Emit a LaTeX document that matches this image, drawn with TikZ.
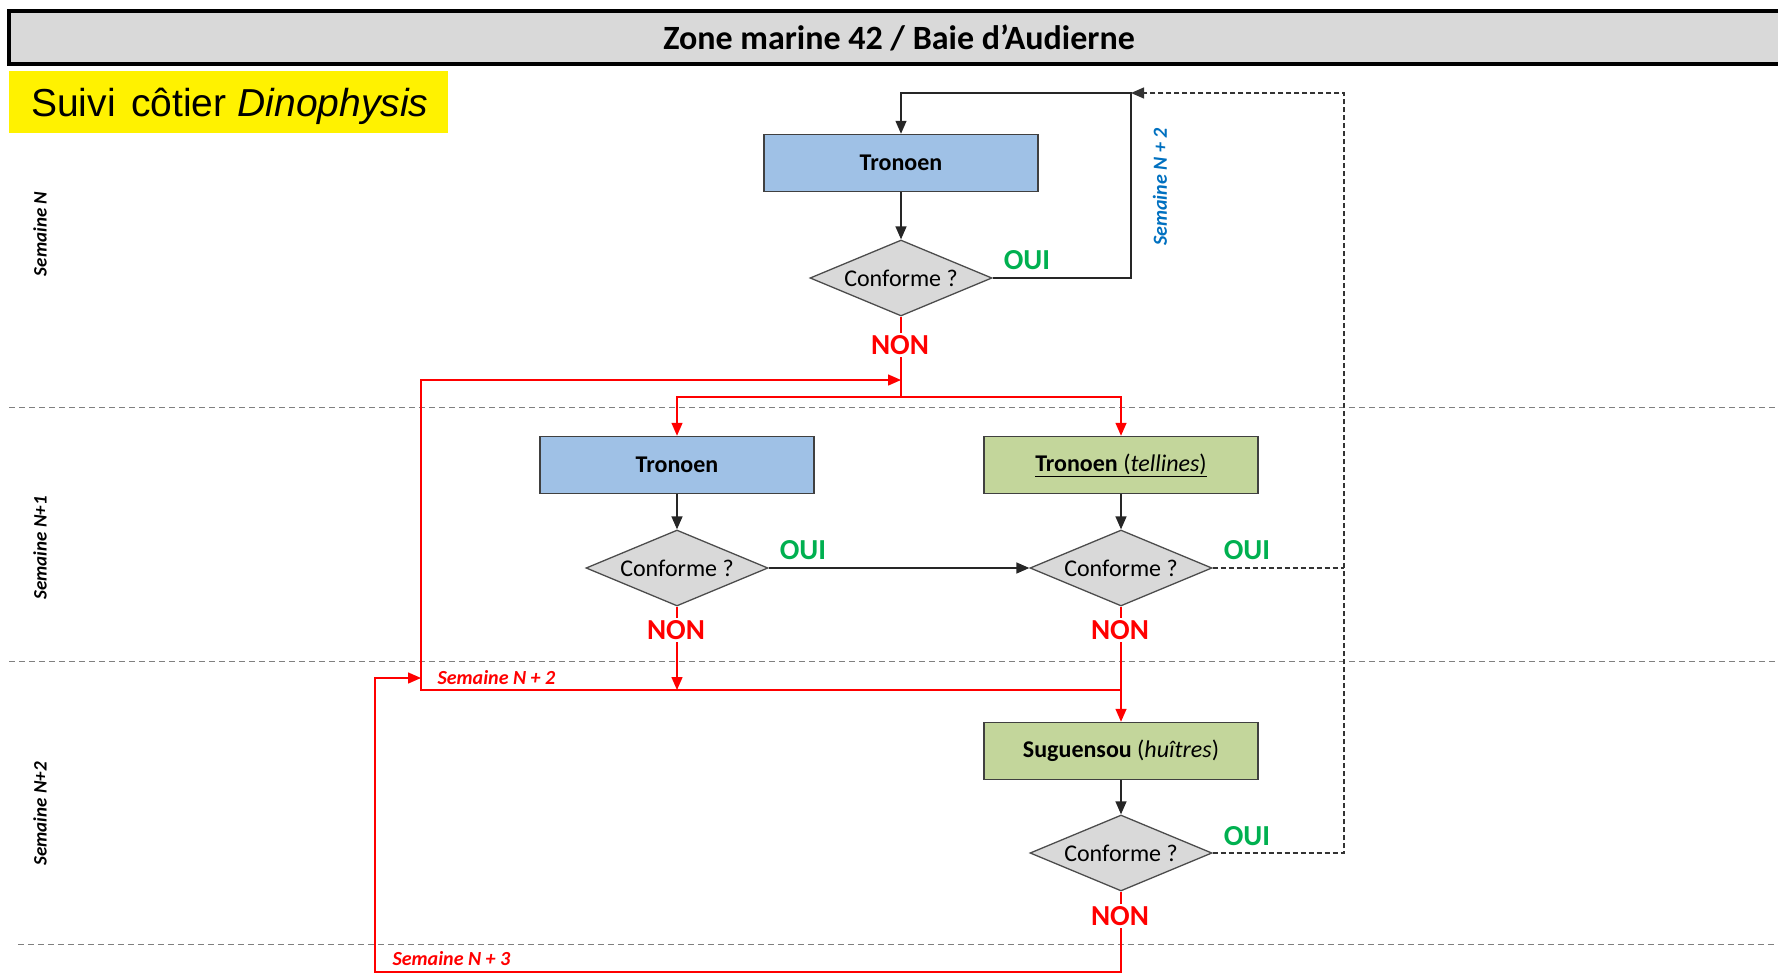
\documentclass[tikz,border=0pt]{standalone}
\usepackage{fontspec}
\setmainfont{Carlito}
\newfontfamily\arialf{Liberation Sans}
\usetikzlibrary{shapes.geometric,arrows.meta}
\newcommand\fsz[1]{\fontsize{#1}{#1}\selectfont}
\definecolor{boxblue}{HTML}{9FC1E6}
\definecolor{boxgreen}{HTML}{C3D69B}
\definecolor{decgray}{HTML}{D9D9D9}
\definecolor{ouigreen}{HTML}{00B050}
\definecolor{labblue}{HTML}{0070C0}
\definecolor{redl}{HTML}{FF0000}
\tikzset{
  box/.style={draw=black!75, line width=1.5pt, minimum width=274pt, minimum height=57pt, inner sep=0pt, font=\fsz{24}},
  bluebox/.style={box, fill=boxblue},
  greenbox/.style={box, fill=boxgreen},
  dec/.style={diamond, draw=black!70, fill=decgray, line width=1.3pt, aspect=2.4, minimum width=182pt, minimum height=76pt, inner sep=0pt, font=\fsz{24}},
  oui/.style={text=ouigreen, font=\bfseries\fsz{29}},
  non/.style={text=redl, font=\bfseries\fsz{29}, fill=white, inner sep=2pt},
  blk/.style={draw=black!85, line width=1.4pt},
  redline/.style={draw=redl, line width=1.5pt},
  dsh/.style={draw=black!80, line width=1.3pt, dash pattern=on 5pt off 3pt},
  lane/.style={draw=black!50, line width=1pt, dash pattern=on 6pt off 4pt},
  arr/.style={-{Triangle[length=13pt,width=11pt]}},
  lanelab/.style={rotate=90, font=\bfseries\itshape\fsz{19}},
  redlab/.style={text=redl, font=\bfseries\itshape\fsz{20}, anchor=west}
}
\begin{document}
\begin{tikzpicture}[x=1pt,y=-1pt]
\useasboundingbox (0,0) rectangle (1778,980);
% title bar
\draw[line width=4pt, fill=decgray] (9,11) rectangle (1800,64);
\node[font=\bfseries\fsz{34}] (title) at (899,38) {Zone marine 42 / Baie d’Audierne};
% yellow label
\fill[yellow] (9,71) rectangle (448,133);
\node[anchor=west, font=\arialf\fsz{39}, inner sep=0pt] (sub) at (31,106) {Suivi\hspace{0.4em}côtier \textit{Dinophysis}};
% lane separators
\draw[lane] (9,407) -- (1778,407);
\draw[lane] (9,661) -- (1778,661);
\draw[lane] (18,944) -- (1778,944);
\node[lanelab] (l1) at (40,234) {Semaine N};
\node[lanelab] (l2) at (40,548) {Semaine N+1};
\node[lanelab] (l3) at (40,814) {Semaine N+2};
% nodes
\node[bluebox] (b1) at (901,163) {\textbf{Tronoen}};
\node[dec] (d1) at (901,278) {Conforme ?};
\node[bluebox] (b2) at (677,465) {\textbf{Tronoen}};
\node[dec] (d2) at (677,568) {Conforme ?};
\node[greenbox] (b3) at (1121,465) {\underline{\textbf{Tronoen} (\textit{tellines})}};
\node[dec] (d3) at (1121,568) {Conforme ?};
\node[greenbox] (b4) at (1121,751) {\textbf{Suguensou} (\textit{huîtres})};
\node[dec] (d4) at (1121,853) {Conforme ?};
% coordinates
\coordinate (tr) at (1131,93);
\coordinate (rx) at (1344,93);
\coordinate (j1) at (901,397);
\coordinate (jt) at (901,380);
\coordinate (lt) at (421,380);
\coordinate (lb) at (421,690);
\coordinate (m2) at (1121,690);
\coordinate (ot) at (375,678);
\coordinate (oe) at (421,678);
\coordinate (ob) at (375,972);
% black connectors
\draw[blk,arr] (b1) -- (d1);
\draw[blk,arr] (b2) -- (d2);
\draw[blk,arr] (b3) -- (d3);
\draw[blk,arr] (b4) -- (d4);
\draw[blk,arr] (d2) -- (d3);
\draw[blk,arr] (d1.east) -| (tr) -| (b1.north);
% dashed connectors
\draw[dsh] (d3.east) -- (d3.east -| rx);
\draw[dsh,arr] (d4.east) -| (rx) -- (tr);
% red connectors
\draw[redline] (d1.south) -- (j1);
\draw[redline,arr] (j1) -| (b2.north);
\draw[redline,arr] (j1) -| (b3.north);
\draw[redline,arr] (m2) -- (lb) -- (lt) -- (jt);
\draw[redline,arr] (d2.south) -- (d2.south |- m2);
\draw[redline,arr] (d3.south) -- (b4.north);
\draw[redline,arr] (d4.south) |- (ob) -- (ot) -- (oe);
% labels
\node[oui] (o1) at (1027,260) {OUI};
\node[oui] (o2) at (803,550) {OUI};
\node[oui] (o3) at (1247,550) {OUI};
\node[oui] (o4) at (1247,836) {OUI};
\node[non] (n1) at (900,345) {NON};
\node[non] (n2) at (676,630) {NON};
\node[non] (n3) at (1120,630) {NON};
\node[non] (n4) at (1120,916) {NON};
\node[rotate=90, text=labblue, font=\bfseries\itshape\fsz{20}] (sb) at (1160,187) {Semaine N + 2};
\node[redlab] (s2) at (434,678) {Semaine N + 2};
\node[redlab] (s3) at (389,959) {Semaine N + 3};
\end{tikzpicture}
\end{document}
